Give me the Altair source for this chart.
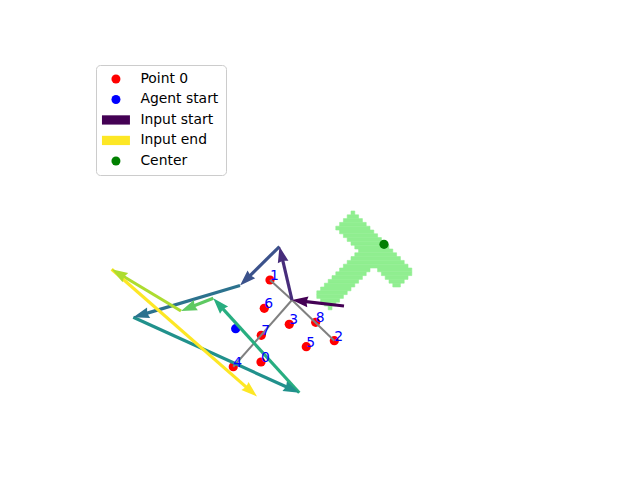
import math
import altair as alt
import pandas as pd

# ---------------- data ----------------
point_labels = ["0", "1", "2", "3", "4", "5", "6", "7", "8"]
point_x = [-1.475, -1.25, 0.358, -0.768, -2.168, -0.343, -1.393, -1.468, -0.108]
point_y = [-3.05, -1.0, -2.518, -2.108, -3.168, -2.668, -1.708, -2.383, -2.058]

agent_start_x = [-2.108]
agent_start_y = [-2.218]

center_x = [1.6]
center_y = [-0.108]

# input path (each consecutive pair is one arrow)
path_x = [0.6, -0.7, -1.013, -2.0, -4.668, -0.518, -2.668, -3.475, -5.208, -1.575]
path_y = [-1.65, -1.5, -0.163, -1.138, -1.933, -3.818, -1.458, -1.775, -0.733, -3.913]

# grey links from the path junction to some of the points
junction_index = [1]
link_targets = [1, 2, 4]

# occupancy mask (T shape): grid origin (top-left), cell size, runs per row
mask_origin_x = [0.775]
mask_origin_y = [0.725]
mask_cell = [0.095]
mask_rows = [
    [(0, 0)], [(-1, 1)], [(-2, 2)], [(-3, 3)], [(-4, 4)],
    [(-3, 5)], [(-2, 6)], [(-1, 7)], [(0, 8)], [(1, 9)],
    [(2, 10)], [(1, 11)], [(0, 12)], [(-1, 13)], [(-2, 14)],
    [(-3, 4), (7, 15)], [(-4, 3), (8, 15)], [(-5, 2), (9, 14)],
    [(-6, 1), (10, 13)], [(-7, 0), (11, 12)],
    [(-8, -1)], [(-9, -2)], [(-9, -3)], [(-8, -4)], [(-7, -5)], [(-6, -6)],
]

legend_labels = ["Point 0", "Agent start", "Input start", "Input end", "Center"]

# ---------------- styles ----------------
viridis9 = ["#440154", "#472d7b", "#3b528b", "#2c728e", "#21918c",
            "#28ae80", "#5ec962", "#addc30", "#fde725"]
legend_colors = ["#ff0000", "#0000ff", "#440154", "#fde725", "#008000"]
rect_path = "M-3.11,-1.03H3.11V1.03H-3.11Z"
legend_shapes = ["circle", "circle", rect_path, rect_path, "circle"]
head_path = "M0,-1L0.68,1L0,0.8125L-0.68,1Z"
PX_PER_UNIT = 40.0
HEAD_BACK_PX = 8.0
SHAFT_BACK_PX = 12.0

xs = alt.Scale(domain=[-8, 8], nice=False, zero=False)
ys = alt.Scale(domain=[-6, 6], nice=False, zero=False)

# ---------------- tables ----------------
mask_recs = []
for r, runs in enumerate(mask_rows):
    for c0, c1 in runs:
        mask_recs.append({
            "x": mask_origin_x[0] + c0 * mask_cell[0],
            "x2": mask_origin_x[0] + (c1 + 1) * mask_cell[0],
            "y": mask_origin_y[0] - r * mask_cell[0],
            "y2": mask_origin_y[0] - (r + 1) * mask_cell[0],
        })
mask_df = pd.DataFrame(mask_recs)

scatter_df = pd.DataFrame(
    [{"x": x, "y": y, "kind": "Point 0"} for x, y in zip(point_x, point_y)]
    + [{"x": x, "y": y, "kind": "Agent start"} for x, y in zip(agent_start_x, agent_start_y)]
    + [{"x": x, "y": y, "kind": "Center"} for x, y in zip(center_x, center_y)]
)

label_df = pd.DataFrame({"x": point_x, "y": point_y, "label": point_labels})

jx, jy = path_x[junction_index[0]], path_y[junction_index[0]]
link_df = pd.DataFrame([{"x": jx, "y": jy, "x2": point_x[i], "y2": point_y[i]} for i in link_targets])

shaft_recs, head_recs = [], []
for i in range(len(path_x) - 1):
    x0, y0, x1, y1 = path_x[i], path_y[i], path_x[i + 1], path_y[i + 1]
    dx, dy = x1 - x0, y1 - y0
    L = math.hypot(dx, dy)
    ux, uy = dx / L, dy / L
    col = viridis9[i]
    shaft_recs.append({"x": x0, "y": y0,
                       "x2": x1 - ux * SHAFT_BACK_PX / PX_PER_UNIT,
                       "y2": y1 - uy * SHAFT_BACK_PX / PX_PER_UNIT,
                       "col": col, "order": i})
    head_recs.append({"x": x1 - ux * HEAD_BACK_PX / PX_PER_UNIT,
                      "y": y1 - uy * HEAD_BACK_PX / PX_PER_UNIT,
                      "ang": math.degrees(math.atan2(ux, uy)) % 360,
                      "col": col, "order": i})
shaft_df = pd.DataFrame(shaft_recs)
head_df = pd.DataFrame(head_recs)

# ---------------- layers ----------------
mask_layer = alt.Chart(mask_df).mark_rect(
    color="#90ee90", stroke="#90ee90", strokeWidth=0.6
).encode(
    x=alt.X("x:Q", scale=xs, axis=None), x2="x2:Q",
    y=alt.Y("y:Q", scale=ys, axis=None), y2="y2:Q",
)

leg = alt.Legend(
    title=None, orient="none", legendX=96, legendY=65,
    labelFont="DejaVu Sans", labelFontSize=13.9, labelColor="#000000",
    symbolSize=81, symbolStrokeWidth=0, symbolOffset=6, labelOffset=17.5,
    rowPadding=5.5, padding=7, cornerRadius=4,
    strokeColor="#cccccc", fillColor="rgba(255,255,255,0.8)",
    symbolOpacity=1,
)

scatter_layer = alt.Chart(scatter_df).mark_point(
    filled=True, opacity=1, size=85, strokeWidth=0
).encode(
    x=alt.X("x:Q", scale=xs, axis=None),
    y=alt.Y("y:Q", scale=ys, axis=None),
    color=alt.Color("kind:N", scale=alt.Scale(domain=legend_labels, range=legend_colors), legend=leg),
    shape=alt.Shape("kind:N", scale=alt.Scale(domain=legend_labels, range=legend_shapes), legend=leg),
)

link_layer = alt.Chart(link_df).mark_rule(color="#808080", strokeWidth=2).encode(
    x=alt.X("x:Q", scale=xs, axis=None), x2="x2:Q",
    y=alt.Y("y:Q", scale=ys, axis=None), y2="y2:Q",
)

shaft_layer = alt.Chart(shaft_df).mark_rule(strokeWidth=3.2, strokeCap="butt").encode(
    x=alt.X("x:Q", scale=xs, axis=None), x2="x2:Q",
    y=alt.Y("y:Q", scale=ys, axis=None), y2="y2:Q",
    color=alt.Color("col:N", scale=None),
)

head_layer = alt.Chart(head_df).mark_point(
    shape=head_path, filled=True, opacity=1, size=256, strokeWidth=0
).encode(
    x=alt.X("x:Q", scale=xs, axis=None),
    y=alt.Y("y:Q", scale=ys, axis=None),
    angle=alt.Angle("ang:Q", scale=None),
    color=alt.Color("col:N", scale=None),
)

label_layer = alt.Chart(label_df).mark_text(
    align="left", baseline="alphabetic", fontSize=13.9, font="DejaVu Sans", color="#0000ff"
).encode(
    x=alt.X("x:Q", scale=xs, axis=None),
    y=alt.Y("y:Q", scale=ys, axis=None),
    text="label:N",
)

chart = alt.layer(
    mask_layer, scatter_layer, link_layer, shaft_layer, head_layer, label_layer
).properties(
    width=640, height=480, padding=0,
    autosize=alt.AutoSizeParams(type="none"),
    background="#ffffff",
).configure_view(stroke=None)

chart.save("out.html", embed_options={"renderer": "svg", "actions": False})
